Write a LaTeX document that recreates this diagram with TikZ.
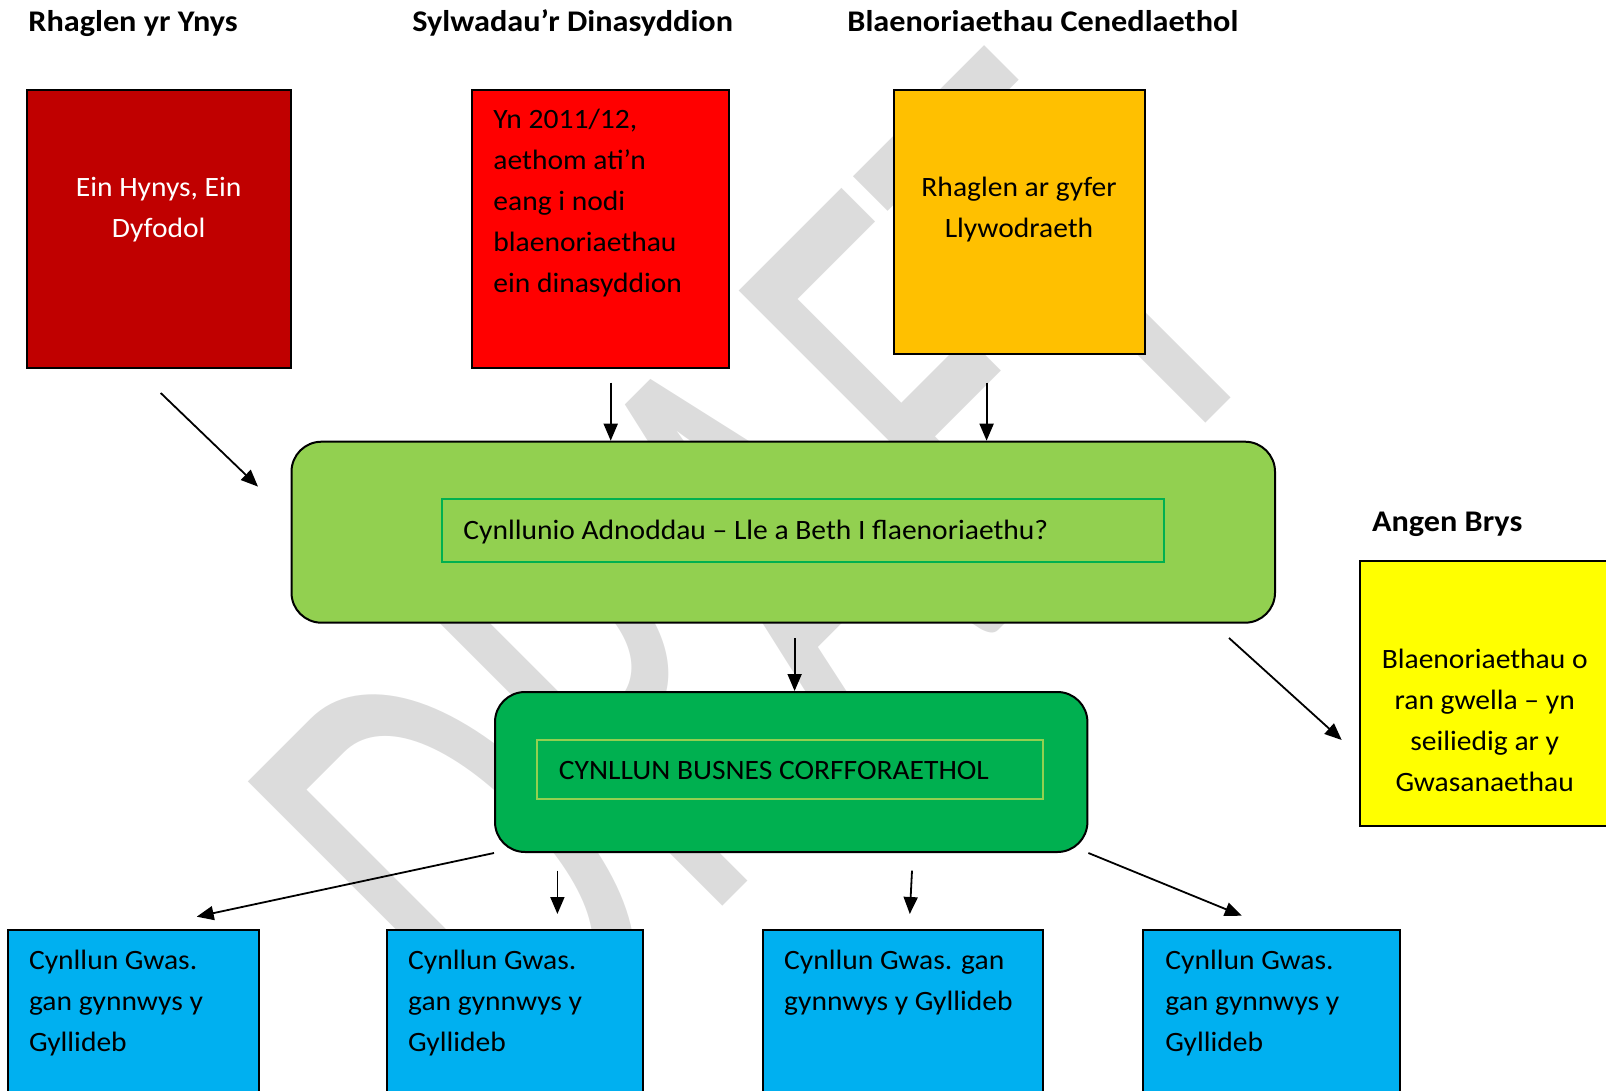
\documentclass[tikz,border=0pt]{standalone}
\usepackage{fontspec}
\setmainfont{Carlito}[FakeStretch=1.055]
\newfontfamily\headfont{Carlito}[FakeStretch=1.075]
\newfontfamily\wmfont{Carlito}
\usetikzlibrary{arrows.meta,fit}
\definecolor{cdarkred}{RGB}{192,0,0}
\definecolor{cred}{RGB}{255,0,0}
\definecolor{corange}{RGB}{255,192,0}
\definecolor{clgreen}{RGB}{146,208,80}
\definecolor{cdgreen}{RGB}{0,176,80}
\definecolor{cyellow}{RGB}{255,255,0}
\definecolor{cblue}{RGB}{0,176,240}
\definecolor{cwmark}{RGB}{220,220,220}
\begin{document}
\begin{tikzpicture}[x=0.5pt,y=-0.5pt,
  box/.style={draw=black, line width=1pt, inner sep=0pt},
  rbox/.style={box, rounded corners=15pt},
  body/.style={font=\fontsize{14}{20.5}\selectfont, inner sep=0pt},
  head/.style={font=\headfont\bfseries\fontsize{15}{18}\selectfont, inner sep=0pt, anchor=base west},
  wm/.style={text=cwmark, font=\wmfont\fontsize{330}{330}\selectfont, inner sep=0pt, anchor=base west, rotate=45, xscale=0.606},
  arr/.style={line width=0.9pt, -{Triangle[length=8.5pt,width=7pt]}}]
\useasboundingbox (0,0) rectangle (1606,1091);
\begin{scope}
\clip (0,0) rectangle (1606,1091);
% watermark
\node[wm] (wmark) at (528,1101) {DRAFT};
% headings
\node[head] (h1) at (28,31.7) {Rhaglen yr Ynys};
\node[head] (h2) at (412,31.7) {Sylwadau’r Dinasyddion};
\node[head] (h3) at (847,31.7) {Blaenoriaethau Cenedlaethol};
\node[head] (h4) at (1371.7,531.7) {Angen Brys};
% top boxes
\node[box, fill=cdarkred, fit={(26.5,90) (290.8,368)}] (b1) {};
\node[box, fill=cred, fit={(472,90) (728.6,367.7)}] (b2) {};
\node[box, fill=corange, fit={(893.6,90) (1144.5,354)}] (b3) {};
\node[body, text=white, align=center, anchor=north] (t1) at (158.7,167.3) {\strut Ein Hynys, Ein\\\strut Dyfodol};
\node[body, align=left, anchor=north west] (t2) at (493,99.3) {\strut Yn 2011/12,\\\strut aethom ati’n\\\strut eang i nodi\\\strut blaenoriaethau\\\strut ein dinasyddion};
\node[body, align=center, anchor=north] (t3) at (1019,167.3) {\strut Rhaglen ar gyfer\\\strut Llywodraeth};
% middle boxes
\node[rbox, fill=clgreen, fit={(291.5,441.7) (1275,622.7)}] (g1) {};
\node[draw=cdgreen, line width=1pt, inner sep=0pt, fit={(442,499) (1164,562)}] (g1in) {};
\node[body, anchor=base west] (tg1) at (463,539) {Cynllunio Adnoddau – Lle a Beth I flaenoriaethu?};
\node[rbox, fill=cdgreen, fit={(495,692) (1087.4,852)}] (g2) {};
\node[draw=clgreen, line width=0.8pt, inner sep=0pt, fit={(537,740) (1043,799)}] (g2in) {};
\node[body, anchor=base west] (tg2) at (558.5,779) {CYNLLUN BUSNES CORFFORAETHOL};
% urgent box
\node[box, fill=cyellow, fit={(1360,561) (1609,825.7)}] (y1) {};
\node[body, align=center, anchor=north] (ty) at (1484.7,639.3) {\strut Blaenoriaethau o\\\strut ran gwella – yn\\\strut seiliedig ar y\\\strut Gwasanaethau};
% bottom boxes
\node[box, fill=cblue, fit={(8.2,930) (259.2,1110)}] (c1) {};
\node[box, fill=cblue, fit={(387.3,930) (643.4,1110)}] (c2) {};
\node[box, fill=cblue, fit={(763.3,930) (1043,1110)}] (c3) {};
\node[box, fill=cblue, fit={(1143.4,930) (1399.6,1110)}] (c4) {};
\node[body, align=left, anchor=north west] (tc1) at (28.7,940.6) {\strut Cynllun Gwas.\\\strut gan gynnwys y\\\strut Gyllideb};
\node[body, align=left, anchor=north west] (tc2) at (407.8,940.6) {\strut Cynllun Gwas.\\\strut gan gynnwys y\\\strut Gyllideb};
\node[body, align=left, anchor=north west] (tc3) at (783.8,940.6) {\strut Cynllun Gwas. gan\\\strut gynnwys y Gyllideb};
\node[body, align=left, anchor=north west] (tc4) at (1165,940.6) {\strut Cynllun Gwas.\\\strut gan gynnwys y\\\strut Gyllideb};
% arrow end points
\coordinate (s1) at (160.7,393);
\coordinate (e1) at (258,486.6);
\coordinate (s2) at (610.7,382.6);
\coordinate (s3) at (986.6,382.6);
\coordinate (s4) at (794.6,638.4);
\coordinate (s5) at (1229,638);
\coordinate (e5) at (1341.7,740);
\coordinate (e6) at (196.7,916.7);
\coordinate (s7) at (557.4,870.7);
\coordinate (e7) at (557.4,914);
\coordinate (s8) at (912,870.7);
\coordinate (e8) at (909.8,914);
\coordinate (e9) at (1241.8,915.7);
% arrows
\draw[arr] (s1) -- (e1);
\draw[arr] (s2) -- (s2 |- g1.north);
\draw[arr] (s3) -- (s3 |- g1.north);
\draw[arr] (s4) -- (s4 |- g2.north);
\draw[arr] (s5) -- (e5);
\draw[arr] (g2.south west) -- (e6);
\draw[arr] (s7) -- (e7);
\draw[arr] (s8) -- (e8);
\draw[arr] (g2.south east) -- (e9);
\end{scope}
\end{tikzpicture}
\end{document}
